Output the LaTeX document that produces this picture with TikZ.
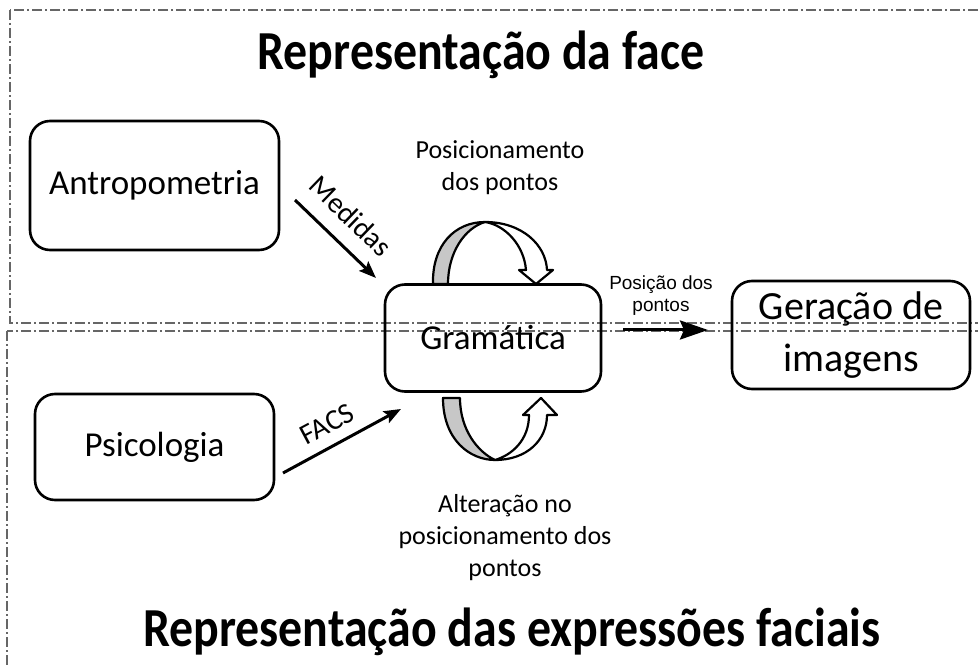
\documentclass[tikz,border=0pt]{standalone}
\usepackage{fontspec}
\setmainfont{Carlito}
\newfontfamily\arialfont{Liberation Sans}
\usetikzlibrary{arrows.meta}

\tikzset{
  box/.style={draw, line width=2.6pt, rounded corners=20pt, align=center,
    font=\fontsize{35}{40}\selectfont},
  region/.style={draw=black!60, line width=1.2pt,
    dash pattern=on 10pt off 3pt on 2pt off 3pt},
  flow/.style={line width=3pt, -{Stealth[length=17pt,width=13pt,inset=3pt]}},
  flowlbl/.style={font=\fontsize{29}{34}\selectfont, inner sep=0pt},
  title/.style={font=\fontsize{55}{60}\selectfont\bfseries},
  note/.style={align=center, font=\fontsize{26}{32}\selectfont},
  band/.style={draw, line width=2.2pt, line join=round}
}

\begin{document}
\begin{tikzpicture}[x=1pt, y=-1pt]
            \useasboundingbox (0,0) rectangle (978,668);
            % regions
            \draw[region] (10,10) rectangle (1000,323);
            \draw[region] (7,331) rectangle (1000,700);
            \node[title] (topTitle) at (481,55) {\scalebox{0.87}[1]{Representação da face}};
            \node[title] (botTitle) at (512,632) {\scalebox{0.87}[1]{Representação das expressões faciais}};
            % boxes
            \node[box, minimum width=249pt, minimum height=129pt] (antro) at (154.5,185.5) {Antropometria};
            \node[box, minimum width=239pt, minimum height=106pt] (psico) at (154.5,447) {Psicologia};
            \node[box, minimum width=216pt, minimum height=107pt] (gram) at (493,338) {Gramática};
            \node[box, minimum width=238pt, minimum height=108pt, font=\fontsize{40}{52}\selectfont] (gera) at (851,335) {Geração de\\imagens};
            % arrows
            \coordinate (medStart) at (295,200);
            \coordinate (medEnd) at (376,278);
            \coordinate (facsStart) at (283,473);
            \coordinate (facsEnd) at (401,409);
            \coordinate (posStart) at (623,330);
            \coordinate (posEnd) at (708,330);
            \draw[flow] (medStart) -- (medEnd);
            \draw[flow] (facsStart) -- (facsEnd);
            \draw[flow, -{Stealth[length=28pt,width=19pt,inset=4pt]}] (posStart) -- (posEnd);
            \node[flowlbl, rotate=-44] (medLbl) at (351,216) {Medidas};
            \node[flowlbl, rotate=28] (facsLbl) at (327,424) {FACS};
            \node[align=center, font=\arialfont\fontsize{19}{22}\selectfont] (posLbl) at (661,296) {Posição dos\\pontos};
            % curved arrow on top
            \filldraw[band, fill=black!22] (433,284) .. controls (432,245) and (455,222) .. (485,222)
                .. controls (465,228) and (448,252) .. (448,284) -- cycle;
            \filldraw[band, fill=white] (485,222) .. controls (522,222) and (546,245) .. (547,270)
                -- (553,270) -- (536,284) -- (519,270) -- (526,270)
                .. controls (524,245) and (505,225) .. (485,222) -- cycle;
            \node[note] (topNote) at (500,168) {Posicionamento\\dos pontos};
            % curved arrow below
            \filldraw[band, fill=black!22] (443,398) .. controls (443,440) and (470,460) .. (495,460)
                .. controls (478,452) and (460,430) .. (460,398) -- cycle;
            \filldraw[band, fill=white] (495,460) .. controls (527,460) and (547,440) .. (547,415)
                -- (557,415) -- (541,398) -- (523,415) -- (529,415)
                .. controls (529,440) and (512,455) .. (495,460) -- cycle;
            \node[note] (botNote) at (505,538) {Alteração no\\posicionamento dos\\pontos};
        \end{tikzpicture}
\end{document}
